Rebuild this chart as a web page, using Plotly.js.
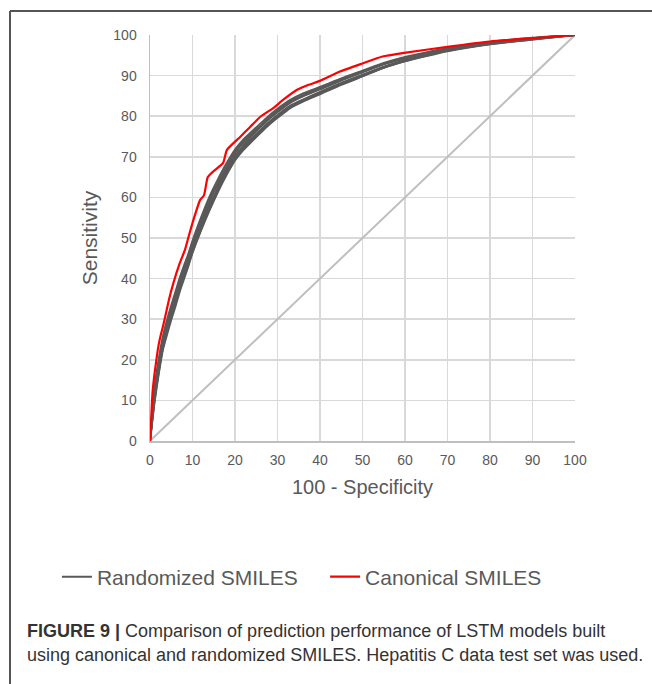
<!DOCTYPE html>
<html>
<head>
<meta charset="utf-8">
<script src="https://cdn.plot.ly/plotly-3.0.1.min.js"></script>
<style>
  html, body { margin: 0; padding: 0; background: #ffffff; }
  #chart { width: 652px; height: 684px; }
</style>
</head>
<body>
<div id="chart"></div>
<script>
// ---- data ----
var xTickLabels = ['0','10','20','30','40','50','60','70','80','90','100'];
var yTickLabels = ['0','10','20','30','40','50','60','70','80','90','100'];

var diagX = [0, 100];
var diagY = [0, 100];

var canonicalX = [0,0.3,0.6,1,1.5,2,2.5,3,3.6,4.5,5.5,7,8.2,9,10.2,11.8,12.7,13.6,15,17.2,18.1,21.2,23.5,25.9,29,31.3,34.6,37.2,40,44.7,50,54.7,59.8,70,80,90,100];
var canonicalY = [0,6,12,16,20,23.5,26,28,30.7,35,38.9,43.8,47,50,54.4,59.4,60.5,65,66.5,68.5,71.7,74.9,77.3,79.8,82,84,86.5,87.7,88.7,91,93,94.7,95.6,97.1,98.4,99.2,100];

var randomizedX = [0,1,2,3,4,5,6,7,8,9,10,12,14,16,18,20,22,24,26,28,30,33,36,40,45,50,55,60,65,70,80,90,100];
var randomized1 = [0,12.5,19.8,25.6,29.8,33.4,36.8,40.2,43.2,46.0,49.3,55.0,60.2,64.5,68.4,71.8,74.3,76.3,78.2,80.1,81.8,84.0,85.6,87.2,89.3,91.2,93.1,94.6,95.7,96.8,98.3,99.3,100];
var randomized2 = [0,9.0,16.2,22.3,26.2,29.9,33.2,36.8,39.9,43.0,46.3,51.8,56.8,61.4,65.5,69.1,71.7,73.8,75.9,77.9,79.6,82.0,83.6,85.4,87.7,89.8,91.9,93.5,94.8,96.0,97.7,98.9,100];
var randomized3 = [0,11.2,18.6,24.5,28.6,32.2,35.6,39.2,42.2,45.4,48.2,53.0,57.2,62.6,67.2,70.9,73.5,75.6,77.4,79.3,81.0,83.3,84.9,86.6,88.8,90.8,92.8,94.2,95.5,96.6,98.1,99.2,100];
var randomized4 = [0,10.2,17.4,23.4,27.4,31.0,34.4,38.0,41.0,44.0,47.6,53.8,59.4,63.4,66.8,70.2,72.6,74.6,76.6,78.6,80.3,82.6,84.1,86.0,88.2,90.2,92.2,93.8,95.1,96.3,97.9,99.0,100];
var randomized5 = [0,11.8,19.0,24.8,28.8,32.6,36.0,39.4,42.6,45.6,48.8,54.2,58.0,62.0,66.4,70.0,72.8,75.2,77.3,79.4,81.2,83.5,85.0,86.8,89.0,91.0,92.9,94.3,95.5,96.6,98.2,99.2,100];
var randomized6 = [0,9.8,17.0,23.0,27.2,30.8,34.2,37.8,40.8,43.8,47.2,52.6,57.8,62.2,66.0,69.6,72.2,74.4,76.4,78.4,80.1,82.4,84.0,85.8,88.0,90.0,92.0,93.7,95.0,96.2,97.8,99.0,100];
var randomized7 = [0,10.6,18.2,24.2,28.2,31.8,35.2,38.8,41.8,44.8,48.4,53.4,58.8,63.6,67.6,71.2,73.8,75.8,77.6,79.6,81.4,83.7,85.2,87.0,89.1,91.0,92.9,94.4,95.6,96.7,98.2,99.2,100];
var randomized8 = [0,9.4,16.6,22.8,27.0,30.6,34.0,37.4,40.4,43.4,46.6,52.2,57.4,61.8,65.8,69.4,71.9,74.0,76.0,78.0,79.8,82.2,83.8,85.6,87.9,89.9,92.0,93.6,94.9,96.1,97.8,98.9,100];

var randomizedSeries = [randomized1, randomized2, randomized3, randomized4, randomized5, randomized6, randomized7, randomized8];

var seriesNames = ['Randomized SMILES', 'Canonical SMILES'];
var xTitle = '100 - Specificity';
var yTitle = 'Sensitivity';
var captionBold = 'FIGURE 9 |';
var captionLine1 = ' Comparison of prediction performance of LSTM models built';
var captionLine2 = 'using canonical and randomized SMILES. Hepatitis C data test set was used.';

// ---- traces ----
var FONT = 'Liberation Sans, Arial, Helvetica, sans-serif';
var traces = [];

traces.push({
  x: diagX, y: diagY, mode: 'lines', type: 'scatter',
  line: {color: '#bfbfbf', width: 2}, showlegend: false, hoverinfo: 'skip'
});

randomizedSeries.forEach(function (ys, i) {
  traces.push({
    x: randomizedX, y: ys, mode: 'lines', type: 'scatter',
    name: seriesNames[0],
    legend: 'legend',
    showlegend: i === 0,
    line: {color: '#595959', width: 2, shape: 'spline', smoothing: 0.6}
  });
});

traces.push({
  x: canonicalX, y: canonicalY, mode: 'lines', type: 'scatter',
  name: seriesNames[1],
  legend: 'legend2',
  line: {color: '#ff0000', width: 2.2, shape: 'spline', smoothing: 0.5}
});

// ---- layout ----
var tickVals = xTickLabels.map(Number);
var legendFont = {size: 21, color: '#595959', family: FONT};

var layout = {
  width: 652, height: 684,
  margin: {l: 150, r: 77, t: 35, b: 243, pad: 0},
  paper_bgcolor: '#ffffff', plot_bgcolor: '#ffffff',
  font: {family: FONT, color: '#595959'},
  showlegend: true,
  xaxis: {
    range: [0, 100], tickvals: tickVals, ticktext: xTickLabels,
    showgrid: true, gridcolor: '#d9d9d9', gridwidth: 1.5,
    zeroline: false, showline: true, linecolor: '#bfbfbf', linewidth: 1.5,
    ticks: 'outside', ticklen: 6, tickcolor: 'rgba(0,0,0,0)',
    tickfont: {size: 14, color: '#595959', family: FONT},
    title: {text: xTitle, font: {size: 20, color: '#595959', family: FONT}, standoff: 12},
    fixedrange: true
  },
  yaxis: {
    range: [0, 100], tickvals: yTickLabels.map(Number), ticktext: yTickLabels,
    showgrid: true, gridcolor: '#d9d9d9', gridwidth: 1.5,
    zeroline: false, showline: true, linecolor: '#bfbfbf', linewidth: 1.5,
    ticks: 'outside', ticklen: 9, tickcolor: 'rgba(0,0,0,0)',
    tickfont: {size: 14, color: '#595959', family: FONT},
    title: {text: yTitle, font: {size: 21, color: '#595959', family: FONT}, standoff: 10},
    fixedrange: true
  },
  legend: {
    orientation: 'h', xref: 'paper', yref: 'paper',
    x: -0.219, y: -0.335, xanchor: 'left', yanchor: 'middle',
    font: legendFont, bgcolor: 'rgba(0,0,0,0)', itemclick: false, itemdoubleclick: false
  },
  legend2: {
    orientation: 'h', xref: 'paper', yref: 'paper',
    x: 0.412, y: -0.335, xanchor: 'left', yanchor: 'middle',
    font: legendFont, bgcolor: 'rgba(0,0,0,0)', itemclick: false, itemdoubleclick: false
  },
  shapes: [
    {type: 'line', xref: 'paper', yref: 'paper', x0: -0.3294, x1: -0.3294, y0: 1.0591, y1: -0.62,
     line: {color: '#555555', width: 2}},
    {type: 'line', xref: 'paper', yref: 'paper', x0: -0.3294, x1: 1.2, y0: 1.0591, y1: 1.0591,
     line: {color: '#555555', width: 2}}
  ],
  annotations: [
    {xref: 'paper', yref: 'paper', x: -0.294, y: -0.468, xanchor: 'left', yanchor: 'middle',
     showarrow: false, align: 'left',
     text: '<b>' + captionBold + '</b>' + captionLine1,
     font: {size: 18, color: '#333333', family: FONT}},
    {xref: 'paper', yref: 'paper', x: -0.294, y: -0.527, xanchor: 'left', yanchor: 'middle',
     showarrow: false, align: 'left',
     text: captionLine2,
     font: {size: 18, color: '#333333', family: FONT}}
  ]
};

Plotly.newPlot('chart', traces, layout, {displayModeBar: false, staticPlot: true});
</script>
</body>
</html>
